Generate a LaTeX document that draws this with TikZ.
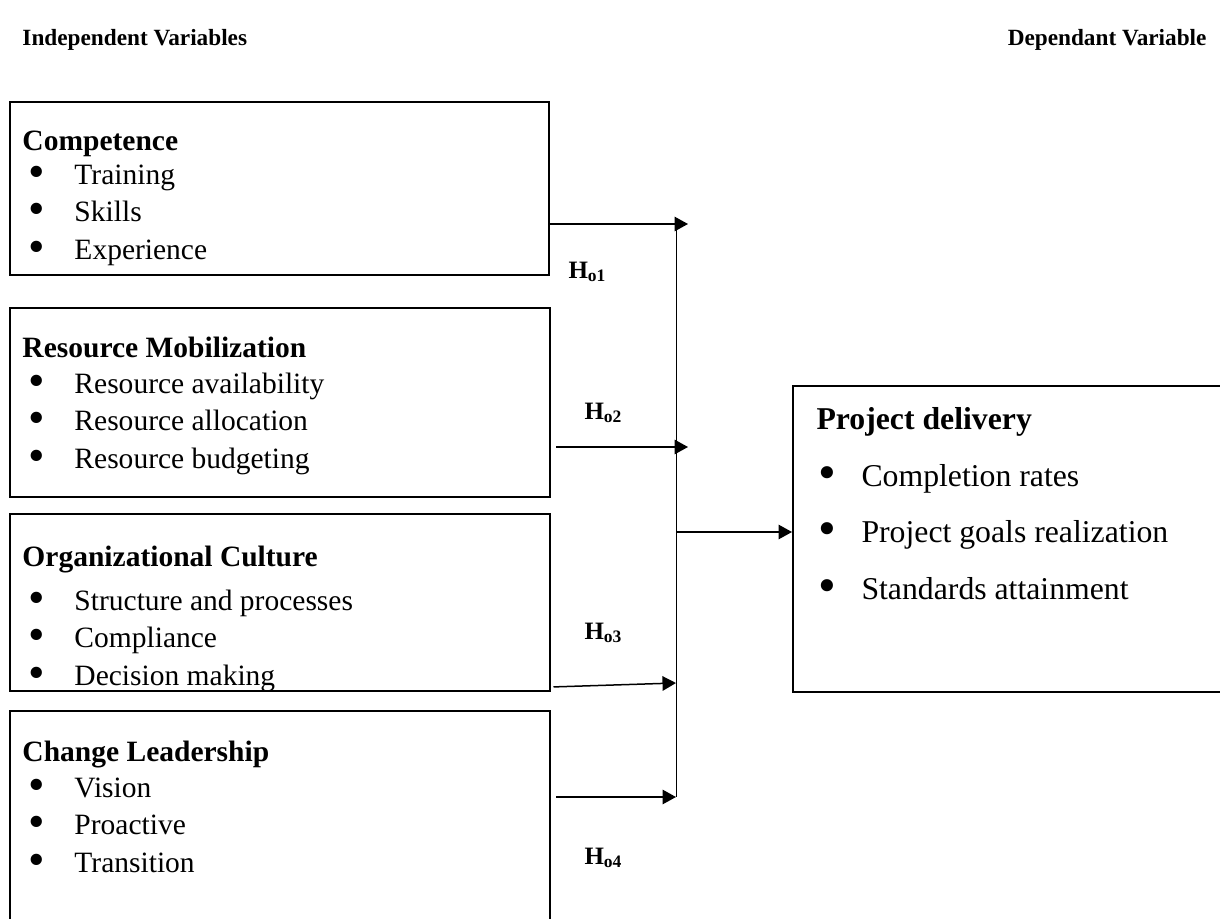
\documentclass[tikz,border=0pt]{standalone}
\usepackage{fontspec}
\setmainfont{Liberation Serif}
\usetikzlibrary{arrows.meta,fit}

\newcommand{\bul}{\makebox[20.8pt][l]{\hspace{2.4pt}\raisebox{-1.3pt}{\scalebox{1.6}{\textbullet}}}}
\newcommand{\bulr}{\makebox[18pt][l]{\hspace{0.6pt}\raisebox{-1.3pt}{\scalebox{1.6}{\textbullet}}}}
\newcommand{\hyp}[1]{\textbf{H}\textsubscript{\textbf{o#1}}}

\tikzset{
	varbox/.style={draw, line width=0.8pt, inner sep=0pt},
	boxtext/.style={inner sep=0pt, align=left, anchor=base west,
		font=\fontsize{11.8}{15}\selectfont},
	header/.style={inner sep=0pt, font=\fontsize{9.3}{11}\selectfont\bfseries},
	hyplabel/.style={inner sep=0pt, anchor=base west, font=\fontsize{10}{12}\selectfont},
	arr/.style={line width=0.6pt, -{Triangle[length=5.4pt,width=5.8pt]}},
	bus/.style={line width=0.4pt}
}

\begin{document}
\begin{tikzpicture}[x=0.4pt, y=-0.4pt]

\useasboundingbox (0,0) rectangle (1220,919);
\clip (0,0) rectangle (1220,919);

\node [header, anchor=base west] (indep) at (22,46) {Independent Variables};
\node [header, anchor=base east] (dep) at (1207,46) {Dependant Variable};

% independent variables (base = last line)
\node [varbox, fit={(10,102) (549,275)}] (comp) {};
\node [boxtext] (comptext) at (22,259) {
	\textbf{Competence}\\[-1.6pt]
	\bul Training\\
	\bul Skills\\
	\bul Experience
};

\node [varbox, fit={(10,308) (550,497)}] (res) {};
\node [boxtext] (restext) at (22,468) {
	\textbf{Resource Mobilization}\\[-0.6pt]
	\bul Resource availability\\
	\bul Resource allocation\\
	\bul Resource budgeting
};

\node [varbox, fit={(10,514) (550,691)}] (org) {};
\node [boxtext] (orgtext) at (22,685) {
	\textbf{Organizational Culture}\\[2.4pt]
	\bul Structure and processes\\
	\bul Compliance\\
	\bul Decision making
};

\node [varbox, fit={(10,711) (550,930)}] (lead) {};
\node [boxtext] (leadtext) at (22,872) {
	\textbf{Change Leadership}\\[-0.8pt]
	\bul Vision\\
	\bul Proactive\\
	\bul Transition
};

% dependent variable
\node [varbox, fit={(793,386) (1230,692)}] (deliv) {};
\node [boxtext, font=\fontsize{12.7}{22.6}\selectfont] (delivtext) at (816,599) {
	\textbf{Project delivery}\\
	\bulr Completion rates\\
	\bulr Project goals realization\\
	\bulr Standards attainment
};

% arrows into the bus
\coordinate (tip1) at (688,224);
\coordinate (tip2) at (688,447);
\coordinate (tip3) at (676,683);
\coordinate (tip4) at (676,797);
\coordinate (mid) at (676,532);

\draw [arr] (comp.east |- tip1) -- (tip1);
\draw [arr, shorten <=2pt] (res.east |- tip2) -- (tip2);
\draw [arr, shorten <=1pt] ([yshift=2pt]org.south east) -- (tip3);
\draw [arr, shorten <=2pt] (lead.east |- tip4) -- (tip4);

\draw [bus] (tip4 |- tip1) -- (tip4);
\draw [arr] (mid) -- (mid -| deliv.west);

\node [hyplabel] (h1) at (568,278) {\hyp{1}};
\node [hyplabel] (h2) at (584,419) {\hyp{2}};
\node [hyplabel] (h3) at (584,639) {\hyp{3}};
\node [hyplabel] (h4) at (584,864) {\hyp{4}};

\end{tikzpicture}
\end{document}
